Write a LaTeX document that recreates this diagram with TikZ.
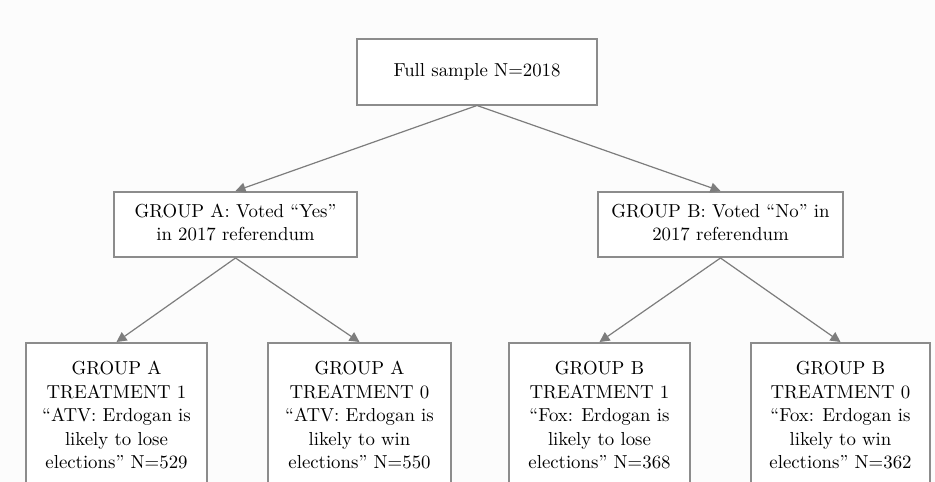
\documentclass[tikz,border=0pt]{standalone}
\usetikzlibrary{arrows.meta}
\usepackage{graphicx}
\definecolor{boxgray}{RGB}{140,140,140}
\definecolor{linegray}{RGB}{125,125,125}
\definecolor{bg}{RGB}{252,252,252}
\newcommand{\bigtxt}[1]{\scalebox{1.88}{\fontsize{10}{12.45}\selectfont\renewcommand{\arraystretch}{1}\begin{tabular}{@{}c@{}}#1\end{tabular}}}
\begin{document}
\begin{tikzpicture}[x=1pt,y=-1pt,
  box/.style={draw=boxgray,line width=2pt,fill=white,inner sep=0pt,align=center},
  conn/.style={draw=linegray,line width=1.2pt,-{Triangle[length=10pt,width=10pt]}}]
\fill[bg] (0,0) rectangle (935,482);
\useasboundingbox (0,0) rectangle (935,482);
\begin{scope}
\clip (0,0) rectangle (935,482);
\node[box,minimum width=240pt,minimum height=66pt] (full) at (477,71.5) {\bigtxt{Full sample N=2018}};
\node[box,minimum width=243pt,minimum height=65pt] (ga) at (235.5,224.5) {\bigtxt{GROUP A: Voted ``Yes''\\in 2017 referendum}};
\node[box,minimum width=245pt,minimum height=65pt] (gb) at (720.5,224.5) {\bigtxt{GROUP B: Voted ``No'' in\\2017 referendum}};
\node[box,minimum width=181pt,minimum height=148pt] (a1) at (116.5,417) {\bigtxt{GROUP A\\TREATMENT 1\\``ATV: Erdogan is\\likely to lose\\elections'' N=529}};
\node[box,minimum width=183pt,minimum height=148pt] (a0) at (359.5,417) {\bigtxt{GROUP A\\TREATMENT 0\\``ATV: Erdogan is\\likely to win\\elections'' N=550}};
\node[box,minimum width=181pt,minimum height=148pt] (b1) at (599.5,417) {\bigtxt{GROUP B\\TREATMENT 1\\``Fox: Erdogan is\\likely to lose\\elections'' N=368}};
\node[box,minimum width=179pt,minimum height=148pt] (b0) at (840.5,417) {\bigtxt{GROUP B\\TREATMENT 0\\``Fox: Erdogan is\\likely to win\\elections'' N=362}};
\end{scope}
\draw[conn] (full.south) -- (ga.north);
\draw[conn] (full.south) -- (gb.north);
\draw[conn] (ga.south) -- (a1.north);
\draw[conn] (ga.south) -- (a0.north);
\draw[conn] (gb.south) -- (b1.north);
\draw[conn] (gb.south) -- (b0.north);
\end{tikzpicture}
\end{document}
